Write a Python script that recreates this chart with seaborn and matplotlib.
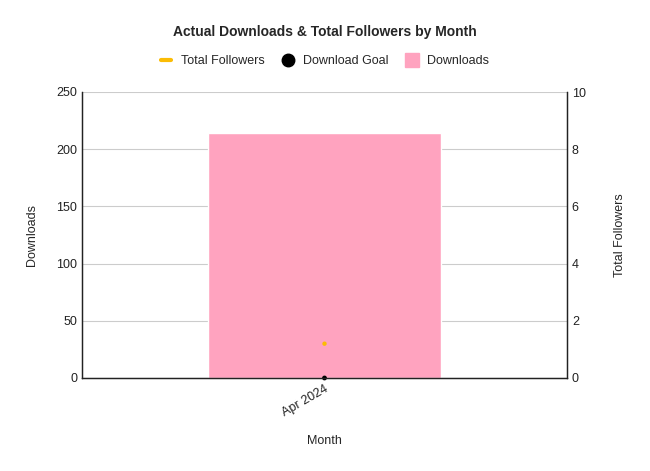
import matplotlib
matplotlib.use("Agg")
import matplotlib.pyplot as plt
import seaborn as sns
import pandas as pd
from matplotlib.lines import Line2D

sns.set_style("white")
plt.rcParams['font.family'] = ['Liberation Sans', 'DejaVu Sans']

months = ["Apr 2024"]
downloads = [214]
download_goal = [0]
total_followers = [1.2]

df = pd.DataFrame({"Month": months, "Downloads": downloads,
                   "Download Goal": download_goal, "Total Followers": total_followers})

fig = plt.figure(figsize=(6.5, 4.71), dpi=100)
ax = fig.add_axes([82/650, 1 - 378/471, (567-82)/650, (378-92)/471])

sns.barplot(data=df, x="Month", y="Downloads", color="#ffa3bf", width=0.48,
            saturation=1, ax=ax)
sns.scatterplot(data=df, x="Month", y="Download Goal", color="black", s=12,
                edgecolor="none", ax=ax, zorder=5, clip_on=False)
ax.set_ylim(0, 250)
ax.set_yticks(range(0, 251, 50))
ax.grid(axis="y", color="#cccccc", linewidth=0.8)
ax.set_axisbelow(True)
ax.set_xlim(-0.5, 0.5)

ax2 = ax.twinx()
sns.scatterplot(data=df, x="Month", y="Total Followers", color="#fbbc04", s=10,
                edgecolor="none", ax=ax2, zorder=6)
ax2.set_ylim(0, 10)
ax2.set_yticks(range(0, 11, 2))
ax2.set_xlim(-0.5, 0.5)

for a in (ax, ax2):
    a.tick_params(axis="both", length=0, labelsize=9, colors="#222222")
    for s in ("left", "right", "bottom"):
        a.spines[s].set_color("#222222")
        a.spines[s].set_linewidth(0.9)
    a.spines["top"].set_visible(False)

ax.set_xticks([0])
ax.set_xticklabels(months, rotation=30, ha="right", rotation_mode="anchor")
ax.set_xlabel("Month", fontsize=9, labelpad=12)
ax.set_ylabel("Downloads", fontsize=9, labelpad=13)
ax2.set_ylabel("Total Followers", fontsize=9, labelpad=20)

fig.suptitle("Actual Downloads & Total Followers by Month", fontsize=10,
             fontweight="bold", y=1 - 25/471)

handles = [
    Line2D([0], [0], color="#fbbc04", linewidth=3, label="Total Followers"),
    Line2D([0], [0], marker="o", color="black", linestyle="none", markersize=9,
           label="Download Goal"),
    Line2D([0], [0], marker="s", color="#ffa3bf", linestyle="none", markersize=10,
           label="Downloads"),
]
fig.legend(handles=handles, loc="center", bbox_to_anchor=(0.5, 1 - 61/471),
           ncol=3, frameon=False, fontsize=9, handlelength=0.8,
           columnspacing=1.5, handletextpad=0.8)

fig.savefig("out.png", dpi=100)
